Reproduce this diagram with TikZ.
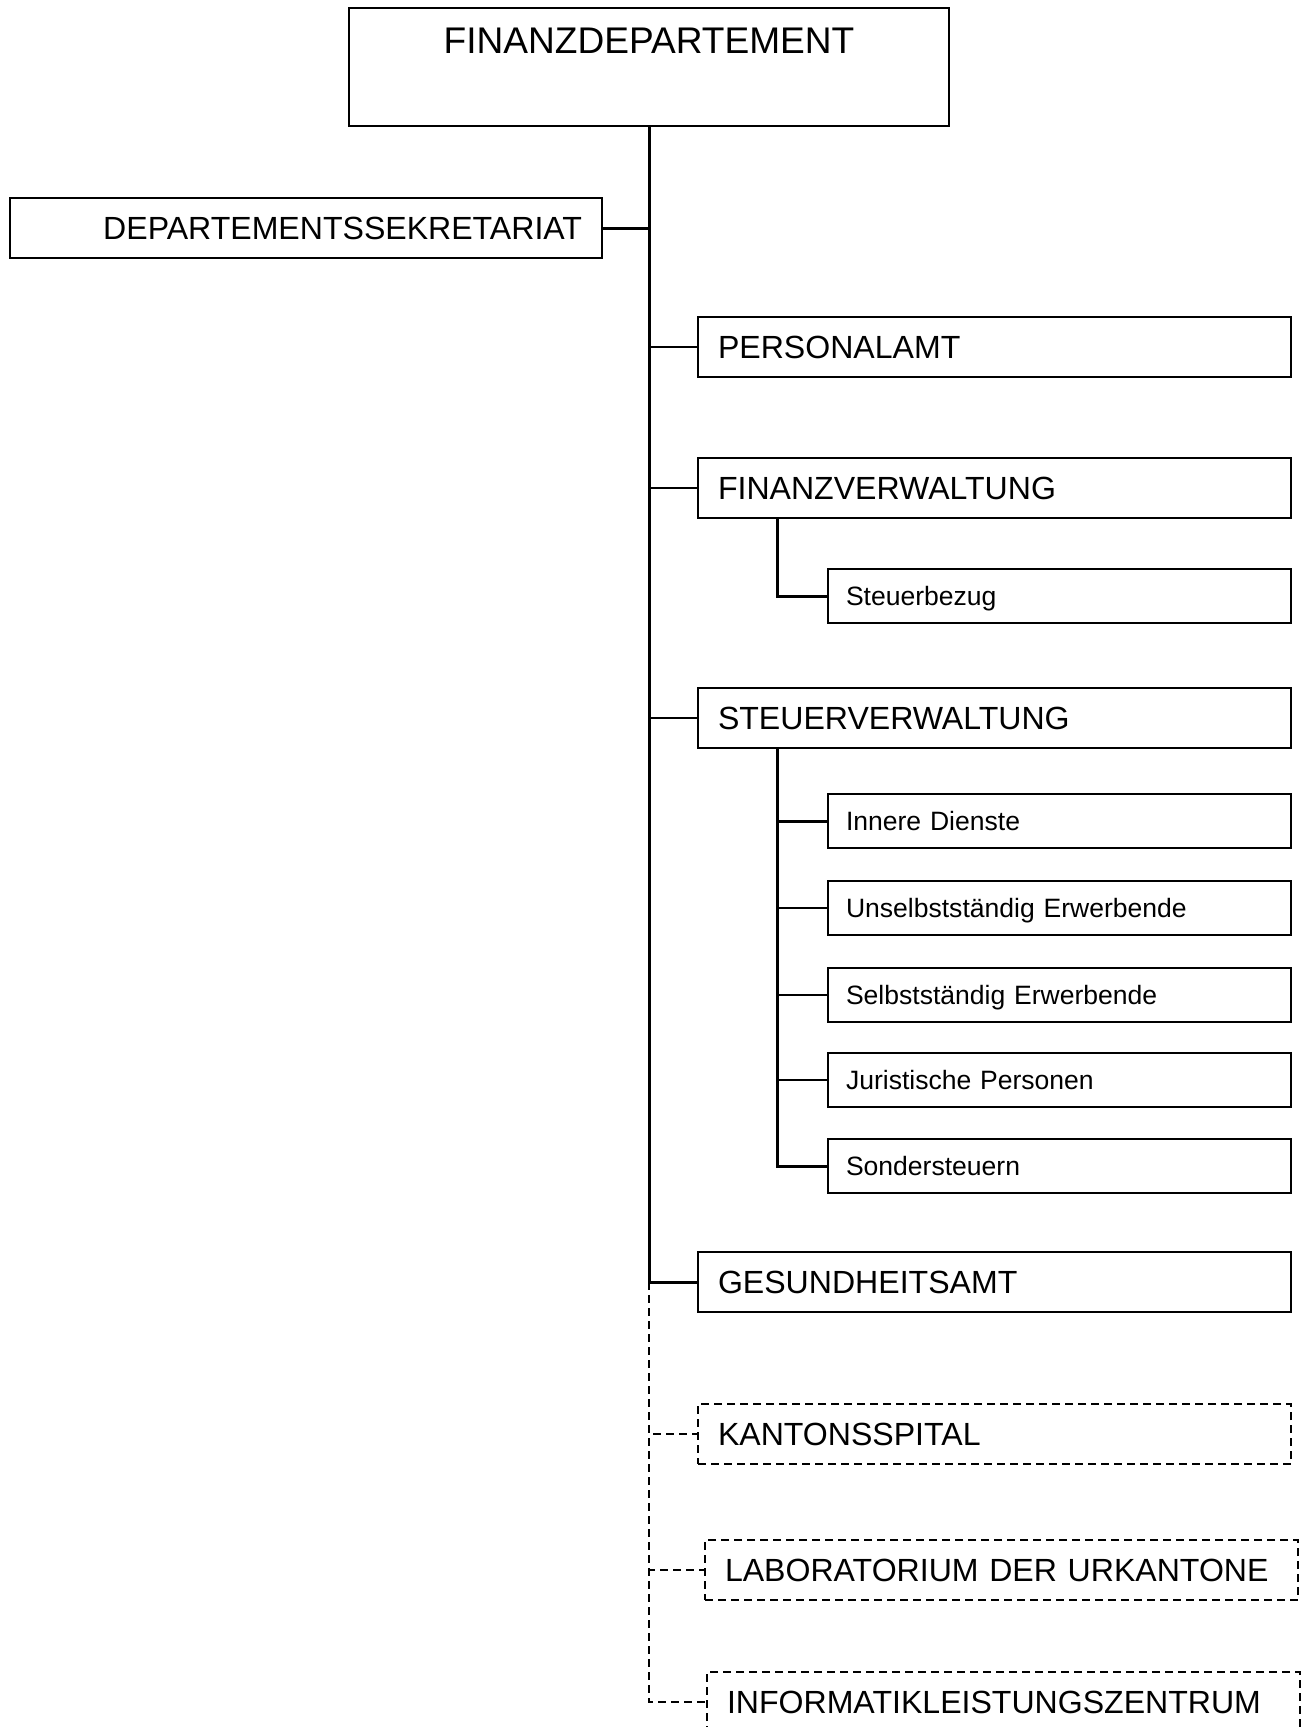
\documentclass[tikz,border=0pt]{standalone}
\usepackage{fontspec}
\setmainfont{Liberation Sans}
\tikzset{
  box/.style={draw, line width=0.4mm, anchor=west, align=left, inner xsep=4mm, inner ysep=0pt,
    text width=110.6mm, text height=8.26mm, text depth=3.74mm,
    font=\fontsize{18.25pt}{20pt}\selectfont},
  subbox/.style={box, inner xsep=3.6mm, text width=85.4mm, text height=7.3mm, text depth=3.5mm,
    font=\fontsize{15.1pt}{17pt}\selectfont},
  extbox/.style={box, dash pattern=on 1.6mm off 1mm},
  trunk/.style={line width=0.6mm},
  branch/.style={line width=0.4mm},
  extline/.style={line width=0.4mm, dash pattern=on 1.6mm off 1mm}
}
\begin{document}
\begin{tikzpicture}[x=0.2mm, y=-0.2mm]
\useasboundingbox (0,0) rectangle (1302,1727);
\node[draw, line width=0.4mm, anchor=north, minimum width=120mm, inner sep=0pt, text height=9.2mm, text depth=14.4mm, font=\fontsize{21.1pt}{23pt}\selectfont] (P_0_0) at (649,7) {FINANZDEPARTEMENT};
\node[box, align=right, text width=110.4mm] (P_1_0) at (9,228) {DEPARTEMENTSSEKRETARIAT};
\node[box] (P_1_1) at (697,347) {PERSONALAMT};
\node[box] (P_1_2) at (697,488) {FINANZVERWALTUNG};
\node[subbox] (P_2_0) at (827,596) {Steuerbezug};
\node[box] (P_1_3) at (697,718) {STEUERVERWALTUNG};
\node[subbox] (P_2_1) at (827,821) {Innere Dienste};
\node[subbox] (P_2_2) at (827,908) {Unselbstständig Erwerbende};
\node[subbox] (P_2_3) at (827,995) {Selbstständig Erwerbende};
\node[subbox] (P_2_4) at (827,1080) {Juristische Personen};
\node[subbox] (P_2_5) at (827,1166) {Sondersteuern};
\node[box] (P_1_4) at (697,1282) {GESUNDHEITSAMT};
\node[extbox] (P_1_5) at (697,1434) {KANTONSSPITAL};
\node[extbox] (P_1_6) at (704,1570) {LABORATORIUM DER URKANTONE};
\node[extbox] (P_1_7) at (706,1702) {INFORMATIKLEISTUNGSZENTRUM};
% main line
\draw[trunk] (P_0_0.south) |- (P_1_4.west);
\draw[trunk] (P_0_0.south |- P_1_0.east) -- (P_1_0.east);
\draw[branch] (P_0_0.south |- P_1_1.west) -- (P_1_1.west);
\draw[branch] (P_0_0.south |- P_1_2.west) -- (P_1_2.west);
\draw[branch] (P_0_0.south |- P_1_3.west) -- (P_1_3.west);
% sub lines
\draw[trunk] (P_1_2.south west) ++(80,0) |- (P_2_0.west);
\path (P_1_3.south west) ++(80,0) coordinate (S_1);
\draw[trunk] (S_1) |- (P_2_5.west);
\draw[trunk] (S_1 |- P_2_1.west) -- (P_2_1.west);
\draw[branch] (S_1 |- P_2_2.west) -- (P_2_2.west);
\draw[branch] (S_1 |- P_2_3.west) -- (P_2_3.west);
\draw[branch] (S_1 |- P_2_4.west) -- (P_2_4.west);
% dashed
\draw[extline] (P_0_0.south |- P_1_4.west) |- (P_1_5.west);
\draw[extline] (P_0_0.south |- P_1_4.west) |- (P_1_6.west);
\draw[extline] (P_0_0.south |- P_1_4.west) |- (P_1_7.west);
\end{tikzpicture}
\end{document}
